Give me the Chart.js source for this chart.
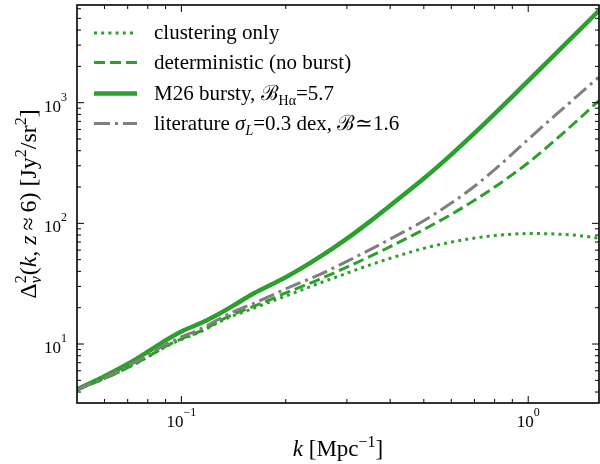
<!DOCTYPE html>
<html lang="en">
<head>
<meta charset="UTF-8">
<title>Power spectrum vs k</title>
<script src="https://cdn.jsdelivr.net/npm/chart.js"></script>
<style>
  html, body { margin: 0; padding: 0; background: #fff; }
  #wrap { width: 600px; height: 464px; position: relative; }
</style>
</head>
<body>
<div id="wrap"><canvas id="chart"></canvas></div>
<script>
// k [Mpc^-1]
const kValues = [0.05, 0.06, 0.07, 0.08, 0.09, 0.1, 0.11, 0.12, 0.13, 0.14, 0.16, 0.18, 0.2,
                 0.25, 0.3, 0.35, 0.4, 0.5, 0.6, 0.7, 0.8, 0.9, 1.0, 1.2, 1.4, 1.6];

// Delta^2 [Jy^2/sr^2] for each curve
const clusteringOnly = [4.20, 5.18, 6.37, 7.80, 9.50, 10.92, 12.13, 13.70, 15.5, 17.0, 19.6, 22.3, 24.97,
                        31.92, 38.66, 45.22, 51.34, 62.09, 69.89, 75.48, 79.20, 81.29, 82.33, 81.57, 79.10, 75.48];
const deterministic = [4.20, 5.18, 6.37, 7.86, 9.56, 11.04, 12.29, 13.88, 15.78, 17.49, 20.29, 23.25, 26.49,
                       34.39, 43.35, 53.21, 64.06, 88.92, 118.7, 155.4, 199.7, 253.3, 317.8, 494.2, 731.8, 1043];
const m26Bursty = [4.20, 5.41, 6.83, 8.63, 10.73, 12.70, 14.31, 16.03, 18.15, 20.50, 25.89, 30.68, 35.73,
                   52.42, 74.7, 103.9, 140.9, 235.4, 371.4, 558.6, 806.4, 1124.7, 1519, 2554, 3962, 5797];
const literature = [4.20, 5.28, 6.55, 8.10, 9.90, 11.48, 12.81, 14.47, 16.44, 18.31, 21.49, 24.91, 28.71,
                    37.53, 48.42, 60.53, 74.13, 105.2, 147.2, 202.8, 279.3, 376.7, 496.6, 790.7, 1167, 1629];

// axis ticks
const xMajorTicks = [0.1, 1];
const xMajorExp = ['\u22121', '0'];
const xMinorTicks = [0.06, 0.07, 0.08, 0.09, 0.2, 0.3, 0.4, 0.5, 0.6, 0.7, 0.8, 0.9];
const yMajorTicks = [10, 100, 1000];
const yMajorExp = ['1', '2', '3'];
const yMinorTicks = [4, 5, 6, 7, 8, 9, 20, 30, 40, 50, 60, 70, 80, 90,
                     200, 300, 400, 500, 600, 700, 800, 900, 2000, 3000, 4000, 5000, 6000];

const GREEN = '#2ca02c';
const GRAY = '#7f7f7f';
const SERIF = '"Liberation Serif", "DejaVu Serif", serif';

const toXY = ys => kValues.map((k, i) => ({ x: k, y: ys[i] }));

const styles = [
    { label: 'clustering only', data: clusteringOnly, color: GREEN, width: 3, dash: [3, 4.2], order: 4 },
    { label: 'deterministic (no burst)', data: deterministic, color: GREEN, width: 3, dash: [11, 5], order: 3 },
    { label: 'M26 bursty', data: m26Bursty, color: GREEN, width: 4.5, dash: [], order: 2 },
    { label: 'literature', data: literature, color: GRAY, width: 3, dash: [16, 5, 3, 5], order: 1 }
];

// draw text pieces with italics / super- / subscripts
// a part with stack:true starts at the same x as the part before it (sup + sub pair)
function drawRich(ctx, parts, x, y, align) {
    const fontOf = p => (p.it ? 'italic ' : '') + p.size + 'px ' + SERIF;
    let w = 0, prevStart = 0;
    parts.forEach(p => {
        ctx.font = fontOf(p);
        const pw = ctx.measureText(p.t).width;
        if (p.stack) { w = Math.max(w, prevStart + pw); } else { prevStart = w; w += pw; }
    });
    const cx = align === 'center' ? x - w / 2 : align === 'right' ? x - w : x;
    let start = cx, end = cx;
    parts.forEach(p => {
        ctx.font = fontOf(p);
        const pw = ctx.measureText(p.t).width;
        if (!p.stack) start = end;
        ctx.fillText(p.t, start, y + (p.dy || 0));
        end = p.stack ? Math.max(end, start + pw) : start + pw;
    });
}

const decoPlugin = {
    id: 'deco',
    afterDraw(chart) {
        const { ctx, chartArea: a, scales: { x, y } } = chart;
        ctx.save();
        ctx.strokeStyle = '#000';
        ctx.fillStyle = '#000';
        ctx.textBaseline = 'alphabetic';
        ctx.textAlign = 'left';

        const seg = (x1, y1, x2, y2) => { ctx.beginPath(); ctx.moveTo(x1, y1); ctx.lineTo(x2, y2); ctx.stroke(); };

        // ticks, inward on all four sides
        ctx.lineWidth = 1;
        xMajorTicks.forEach(v => { const p = x.getPixelForValue(v); seg(p, a.bottom, p, a.bottom - 7); seg(p, a.top, p, a.top + 7); });
        xMinorTicks.forEach(v => { const p = x.getPixelForValue(v); seg(p, a.bottom, p, a.bottom - 4); seg(p, a.top, p, a.top + 4); });
        yMajorTicks.forEach(v => { const p = y.getPixelForValue(v); seg(a.left, p, a.left + 7, p); seg(a.right, p, a.right - 7, p); });
        yMinorTicks.forEach(v => { const p = y.getPixelForValue(v); seg(a.left, p, a.left + 4, p); seg(a.right, p, a.right - 4, p); });

        // frame
        ctx.lineWidth = 1.6;
        ctx.strokeRect(a.left, a.top, a.right - a.left, a.bottom - a.top);

        // tick labels
        xMajorTicks.forEach((v, i) => {
            drawRich(ctx, [{ t: '10', size: 17 }, { t: xMajorExp[i], size: 12, dy: -11 }],
                x.getPixelForValue(v), 427, 'center');
        });
        yMajorTicks.forEach((v, i) => {
            drawRich(ctx, [{ t: '10', size: 17 }, { t: yMajorExp[i], size: 12, dy: -11 }],
                67, y.getPixelForValue(v) + 9, 'right');
        });

        // axis titles
        drawRich(ctx, [
            { t: 'k', it: true, size: 23 }, { t: ' [Mpc', size: 23 },
            { t: '\u22121', size: 16, dy: -9 }, { t: ']', size: 23 }
        ], (a.left + a.right) / 2, 456, 'center');

        ctx.save();
        ctx.translate(36, (a.top + a.bottom) / 2);
        ctx.rotate(-Math.PI / 2);
        drawRich(ctx, [
            { t: '\u0394', size: 24 }, { t: '2', size: 16, dy: -10 }, { t: '\u03bd', it: true, size: 16, dy: 5, stack: true },
            { t: '(', size: 24 }, { t: 'k', it: true, size: 24 }, { t: ', ', size: 24 },
            { t: 'z', it: true, size: 24 }, { t: '\u2009\u2248\u20096) [Jy', size: 24 }, { t: '2', size: 16, dy: -10 },
            { t: '/sr', size: 24 }, { t: '2', size: 16, dy: -10 }, { t: ']', size: 24 }
        ], 0, 0, 'center');
        ctx.restore();

        // legend
        const rows = [33, 62.5, 93.5, 123.5];
        const fs = 21, sub = 14;
        const texts = [
            [{ t: 'clustering only', size: fs }],
            [{ t: 'deterministic (no burst)', size: fs }],
            [{ t: 'M26 bursty, ', size: fs }, { t: '\u212c', size: fs }, { t: 'H\u03b1', size: sub, dy: 5 }, { t: '=5.7', size: fs }],
            [{ t: 'literature ', size: fs }, { t: '\u03c3', it: true, size: fs }, { t: 'L', it: true, size: sub, dy: 5 },
             { t: '=0.3 dex, ', size: fs }, { t: '\u212c', size: fs }, { t: '\u22431.6', size: fs }]
        ];
        styles.forEach((s, i) => {
            ctx.strokeStyle = s.color;
            ctx.lineWidth = s.width;
            ctx.setLineDash(s.dash);
            ctx.lineCap = 'butt';
            seg(94, rows[i], 137, rows[i]);
            ctx.setLineDash([]);
            drawRich(ctx, texts[i], 154, rows[i] + 6, 'left');
        });
        ctx.restore();
    }
};

new Chart(document.getElementById('chart'), {
    type: 'line',
    data: {
        datasets: styles.map(s => ({
            label: s.label,
            data: toXY(s.data),
            borderColor: s.color,
            borderWidth: s.width,
            borderDash: s.dash,
            pointRadius: 0,
            cubicInterpolationMode: 'monotone',
            fill: false,
            clip: 0,
            order: s.order
        }))
    },
    options: {
        responsive: true,
        maintainAspectRatio: false,
        animation: false,
        layout: { padding: { top: 5, right: 1, left: 0, bottom: 0 } },
        plugins: { legend: { display: false }, tooltip: { enabled: false } },
        scales: {
            x: {
                type: 'logarithmic', min: 0.05, max: 1.6,
                grid: { display: false }, border: { display: false },
                ticks: { display: false },
                afterFit: s => { s.height = 61; }
            },
            y: {
                type: 'logarithmic', min: 3.245, max: 6450,
                grid: { display: false }, border: { display: false },
                ticks: { display: false },
                afterFit: s => { s.width = 77; }
            }
        }
    },
    plugins: [decoPlugin]
});
</script>
</body>
</html>
